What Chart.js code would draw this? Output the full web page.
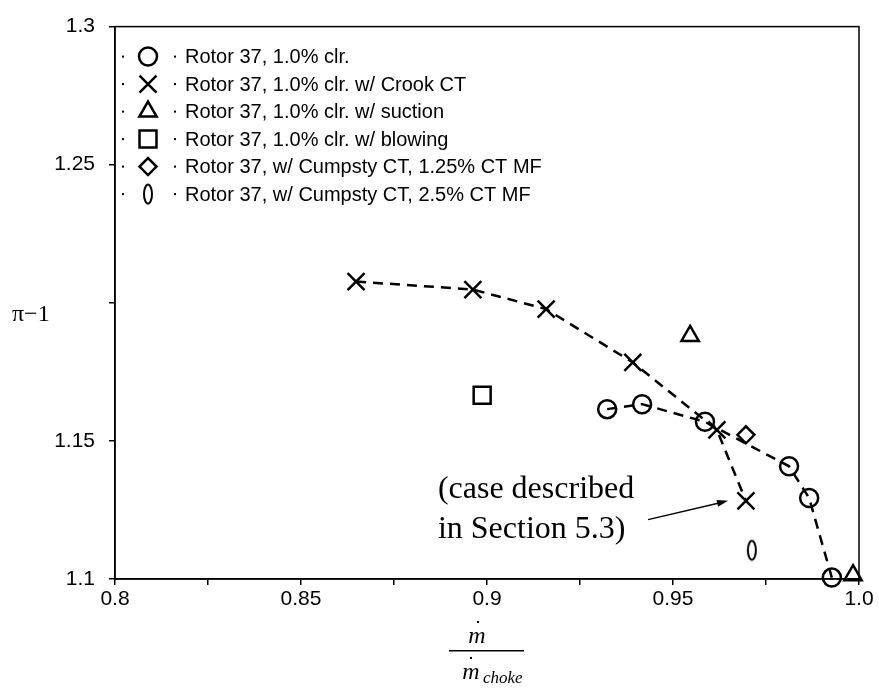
<!DOCTYPE html>
<html>
<head>
<meta charset="utf-8">
<script src="https://cdn.jsdelivr.net/npm/chart.js@4.4.1/dist/chart.umd.min.js"></script>
<style>
  body { margin: 0; background: #fff; }
  canvas { display: block; }
</style>
</head>
<body>
<canvas id="grafico" width="879" height="691"></canvas>
<script>

const nomes = [
    'Rotor 37, 1.0% clr.',
    'Rotor 37, 1.0% clr. w/ Crook CT',
    'Rotor 37, 1.0% clr. w/ suction',
    'Rotor 37, 1.0% clr. w/ blowing',
    'Rotor 37, w/ Cumpsty CT, 1.25% CT MF',
    'Rotor 37, w/ Cumpsty CT, 2.5% CT MF'
];

const clrX = [0.9323, 0.9417, 0.9586, 0.9812, 0.9866, 0.9927];
const clrY = [1.1615, 1.1633, 1.1569, 1.1408, 1.1293, 1.1005];

const crookX = [0.8648, 0.8962, 0.9159, 0.9392, 0.9618, 0.9696];
const crookY = [1.2077, 1.2048, 1.1977, 1.1784, 1.1540, 1.1283];

const suctionX = [0.9546, 0.9984];
const suctionY = [1.1880, 1.1014];

const blowingX = [0.8987];
const blowingY = [1.1665];

const cumpsty125X = [0.9696];
const cumpsty125Y = [1.1522];

const cumpsty25X = [0.9712];
const cumpsty25Y = [1.1104];

const xTicks = [0.8, 0.825, 0.85, 0.875, 0.9, 0.925, 0.95, 0.975, 1.0];
const xTickLabels = ['0.8', '', '0.85', '', '0.9', '', '0.95', '', '1.0'];
const yTicks = [1.1, 1.15, 1.2, 1.25, 1.3];
const yTickLabels = ['1.1', '1.15', '', '1.25', '1.3'];

function pontos(xs, ys){
    return xs.map((x, i) => ({ x: x, y: ys[i] }));
}

// marcador "0" (elipse estreita)
function fazerZero(){
    const c = document.createElement('canvas');
    c.width = 14;
    c.height = 24;
    const g = c.getContext('2d');
    g.strokeStyle = '#000';
    g.lineWidth = 2;
    g.beginPath();
    g.ellipse(7, 12, 4, 9.5, 0, 0, 2 * Math.PI);
    g.stroke();
    return c;
}

const zero = fazerZero();

function serie(label, xs, ys, estilo, raio, linha){
    return {
        label: label,
        data: pontos(xs, ys),
        showLine: linha,
        borderColor: '#000',
        borderWidth: 2.5,
        borderDash: [10, 7],
        backgroundColor: 'rgba(0,0,0,0)',
        pointStyle: estilo,
        pointRadius: raio,
        pointHoverRadius: raio,
        pointBorderColor: '#000',
        pointBackgroundColor: 'rgba(0,0,0,0)',
        pointBorderWidth: 2.5,
        clip: false
    };
}

const extras = {
    id: 'extras',
    afterDraw(chart){
        const c = chart.ctx;
        const a = chart.chartArea;
        const sx = chart.scales.x;
        const sy = chart.scales.y;

        c.save();
        c.strokeStyle = '#000';
        c.fillStyle = '#000';
        c.lineWidth = 1.5;
        c.strokeRect(a.left, a.top, a.right - a.left, a.bottom - a.top);

        // legenda
        c.font = '20px "Liberation Sans", Arial, sans-serif';
        c.textBaseline = 'middle';
        c.textAlign = 'left';
        chart.data.datasets.forEach((ds, i) => {
            const y = a.top + 30 + i * 27.5;
            c.fillStyle = '#000';
            c.fillRect(a.left + 7, y - 1, 2, 2);
            c.fillRect(a.left + 59, y - 1, 2, 2);
            c.fillText(ds.label, a.left + 70, y + 1);
            c.fillStyle = 'rgba(0,0,0,0)';
            c.lineWidth = 2.5;
            Chart.helpers.drawPoint(c, {
                pointStyle: ds.pointStyle,
                radius: ds.pointRadius,
                borderWidth: 2.5,
                rotation: 0
            }, a.left + 33, y);
        });
        c.fillStyle = '#000';

        // nota com seta
        c.font = '32px "Liberation Serif", "DejaVu Serif", serif';
        c.textBaseline = 'alphabetic';
        const nx = sx.getPixelForValue(0.8868);
        c.fillText('(case described', nx, sy.getPixelForValue(1.1293));
        c.fillText('in Section 5.3)', nx, sy.getPixelForValue(1.1150));

        const x0 = sx.getPixelForValue(0.9433), y0 = sy.getPixelForValue(1.1215);
        const x1 = sx.getPixelForValue(0.9648), y1 = sy.getPixelForValue(1.1283);
        const ang = Math.atan2(y1 - y0, x1 - x0);
        c.lineWidth = 1.5;
        c.beginPath();
        c.moveTo(x0, y0);
        c.lineTo(x1 - 8 * Math.cos(ang), y1 - 8 * Math.sin(ang));
        c.stroke();
        c.beginPath();
        c.moveTo(x1, y1);
        c.lineTo(x1 - 11 * Math.cos(ang) + 3.5 * Math.sin(ang), y1 - 11 * Math.sin(ang) - 3.5 * Math.cos(ang));
        c.lineTo(x1 - 11 * Math.cos(ang) - 3.5 * Math.sin(ang), y1 - 11 * Math.sin(ang) + 3.5 * Math.cos(ang));
        c.closePath();
        c.fill();

        // titulo do eixo y
        c.font = '24px "Liberation Serif", "DejaVu Serif", serif';
        c.textAlign = 'left';
        c.textBaseline = 'alphabetic';
        c.fillText('\u03c0\u22121', 12, sy.getPixelForValue(1.2) + 18);

        // titulo do eixo x: m ponto / m ponto choke
        const cx = (a.left + a.right) / 2;
        c.font = 'italic 24px "Liberation Serif", "DejaVu Serif", serif';
        c.textAlign = 'center';
        c.fillText('m', cx - 10, 643);
        c.fillRect(cx - 10, 621, 2, 2);
        c.fillRect(cx - 38, 650, 75, 1.5);
        c.fillText('m', cx - 16, 679);
        c.fillRect(cx - 17, 657, 2, 2);
        c.font = 'italic 17px "Liberation Serif", "DejaVu Serif", serif';
        c.textAlign = 'left';
        c.fillText('choke', cx - 4, 683);

        c.restore();
    }
};

const ctx = document.getElementById('grafico');

new Chart(ctx, {
    type: 'scatter',

    data: {
        datasets: [
            serie(nomes[0], clrX, clrY, 'circle', 9, true),
            serie(nomes[1], crookX, crookY, 'crossRot', 12, true),
            serie(nomes[2], suctionX, suctionY, 'triangle', 10, false),
            serie(nomes[3], blowingX, blowingY, 'rect', 12, false),
            serie(nomes[4], cumpsty125X, cumpsty125Y, 'rectRot', 8.5, false),
            serie(nomes[5], cumpsty25X, cumpsty25Y, zero, 10, false)
        ]
    },

    options: {
        responsive: false,
        animation: false,
        events: [],

        layout: {
            padding: { top: 20, right: 20, left: 0, bottom: 0 }
        },

        plugins: {
            legend: { display: false },
            tooltip: { enabled: false }
        },

        scales: {
            x: {
                type: 'linear',
                min: 0.8,
                max: 1.0,
                afterBuildTicks: (s) => { s.ticks = xTicks.map(v => ({ value: v })); },
                afterFit: (s) => { s.height = 112; },
                ticks: {
                    autoSkip: false,
                    maxRotation: 0,
                    padding: 2,
                    color: '#000',
                    font: { family: '"Liberation Sans", Arial, sans-serif', size: 21 },
                    callback: (v, i) => xTickLabels[i]
                },
                grid: {
                    drawOnChartArea: false,
                    drawTicks: true,
                    tickLength: 6,
                    color: '#000',
                    lineWidth: 1.5
                },
                border: { display: true, color: '#000', width: 1.5 }
            },
            y: {
                type: 'linear',
                min: 1.1,
                max: 1.3,
                afterBuildTicks: (s) => { s.ticks = yTicks.map(v => ({ value: v })); },
                afterFit: (s) => { s.width = 115; },
                ticks: {
                    autoSkip: false,
                    padding: 14,
                    color: '#000',
                    font: { family: '"Liberation Sans", Arial, sans-serif', size: 21 },
                    callback: (v, i) => yTickLabels[i]
                },
                grid: {
                    drawOnChartArea: false,
                    drawTicks: true,
                    tickLength: 6,
                    color: '#000',
                    lineWidth: 1.5
                },
                border: { display: true, color: '#000', width: 1.5 }
            }
        }
    },

    plugins: [extras]
});

</script>
</body>
</html>
